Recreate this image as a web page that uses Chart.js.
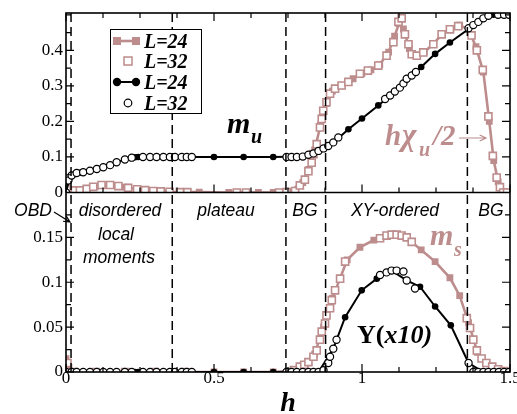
<!DOCTYPE html>
<html>
<head>
<meta charset="utf-8">
<title>m_u and m_s versus h</title>
<script src="https://cdn.jsdelivr.net/npm/chart.js@4.4.1/dist/chart.umd.min.js"></script>
<style>
  html, body { margin: 0; padding: 0; background: #fff; }
  canvas { display: block; }
</style>
</head>
<body>
<canvas id="chart" width="517" height="414"></canvas>
<script>
// upper panel, black: uniform magnetization m_u
const muH24 = [0, 0.01, 0.05, 0.104, 0.149, 0.199, 0.233, 0.244, 0.306, 0.351, 0.408, 0.5, 0.6, 0.7, 0.8, 0.853, 0.903, 0.954, 1.0, 1.055, 1.095, 1.14, 1.2, 1.247, 1.297, 1.41, 1.444, 1.47, 1.5];
const mu24 = [0, 0.034, 0.056, 0.066, 0.077, 0.093, 0.099, 0.1, 0.1, 0.1, 0.1, 0.1, 0.1, 0.1, 0.101, 0.117, 0.14, 0.178, 0.208, 0.245, 0.273, 0.307, 0.353, 0.39, 0.422, 0.49, 0.5, 0.5, 0.5];
const muH32 = [0, 0.008, 0.019, 0.036, 0.058, 0.081, 0.104, 0.126, 0.149, 0.171, 0.199, 0.222,
  0.26, 0.284, 0.306, 0.329, 0.351, 0.368, 0.391, 0.408, 0.425,
  0.745, 0.762, 0.78, 0.8, 0.819, 0.836, 0.853, 0.87, 0.886, 0.903, 0.92,
  1.078, 1.095, 1.111, 1.128, 1.14, 1.151, 1.168, 1.182,
  1.36, 1.376, 1.393, 1.41, 1.427, 1.46, 1.48, 1.497];
const mu32 = [0, 0.034, 0.048, 0.055, 0.057, 0.061, 0.066, 0.071, 0.077, 0.085, 0.093, 0.098,
  0.1, 0.1, 0.1, 0.1, 0.1, 0.1, 0.1, 0.1, 0.1,
  0.1, 0.1, 0.1, 0.101, 0.106, 0.11, 0.117, 0.124, 0.131, 0.141, 0.155,
  0.263, 0.273, 0.284, 0.295, 0.307, 0.32, 0.329, 0.339,
  0.462, 0.471, 0.48, 0.49, 0.497, 0.5, 0.5, 0.5];

// upper panel, pink: h*chi_u/2
const chiH24 = [0, 0.05, 0.1, 0.15, 0.2, 0.25, 0.3, 0.35, 0.45, 0.55, 0.65, 0.7, 0.75,
  0.8, 0.82, 0.84, 0.86, 0.88, 0.9, 0.93, 0.97, 1.0, 1.03, 1.06, 1.09,
  1.11, 1.125, 1.14, 1.16, 1.185, 1.21, 1.24, 1.27, 1.3, 1.33,
  1.36, 1.385, 1.41, 1.43, 1.445, 1.46, 1.48, 1.5];
const chi24 = [0.012, 0.007, 0.017, 0.02, 0.015, 0.008, 0.004, 0.002, 0.001, 0, 0, 0, 0.002,
  0.028, 0.065, 0.12, 0.19, 0.25, 0.285, 0.3, 0.32, 0.335, 0.345, 0.36, 0.395,
  0.44, 0.475, 0.46, 0.405, 0.385, 0.395, 0.417, 0.445, 0.46, 0.471,
  0.458, 0.41, 0.339, 0.2, 0.09, 0.03, 0.002, 0];
const chiH32 = [0.002, 0.03, 0.047, 0.07, 0.092, 0.12, 0.149, 0.177, 0.21, 0.24, 0.267, 0.295, 0.32, 0.35, 0.385, 0.41,
  0.577, 0.608, 0.72, 0.745, 0.774,
  0.79, 0.807, 0.819, 0.83, 0.836, 0.847, 0.858, 0.864, 0.869, 0.88,
  0.892, 0.909, 0.931, 0.954, 0.993, 1.02, 1.055, 1.083, 1.106, 1.123,
  1.134, 1.145, 1.157, 1.168, 1.185, 1.207, 1.241, 1.269, 1.297, 1.325,
  1.37, 1.388, 1.408, 1.427, 1.442, 1.455, 1.466, 1.477, 1.49];
const chi32 = [0.01, 0.006, 0.006, 0.01, 0.016, 0.021, 0.021, 0.018, 0.013, 0.009, 0.0065, 0.004, 0.003, 0.002, 0.001, 0.001,
  0, 0, 0, 0.001, 0.004,
  0.02, 0.036, 0.06, 0.084, 0.108, 0.136, 0.183, 0.207, 0.23, 0.254,
  0.278, 0.292, 0.301, 0.311, 0.334, 0.343, 0.357, 0.385, 0.423, 0.48,
  0.49, 0.445, 0.417, 0.389, 0.385, 0.394, 0.417, 0.445, 0.459, 0.468,
  0.442, 0.40, 0.345, 0.214, 0.103, 0.042, 0.015, 0, 0];

// lower panel, pink: staggered magnetization m_s
const msH24 = [0, 0.01, 0.03, 0.1, 0.2, 0.3, 0.4, 0.5, 0.6, 0.7,
  0.75, 0.8, 0.84, 0.87, 0.9, 0.95, 0.993, 1.04, 1.1, 1.15,
  1.2, 1.247, 1.297, 1.33, 1.36, 1.39, 1.42, 1.46, 1.5];
const ms24 = [0.015, 0.005, 0.001, 0, 0, 0, 0, 0, 0, 0,
  0.001, 0.007, 0.02, 0.05, 0.082, 0.125, 0.139, 0.147, 0.152, 0.15,
  0.136, 0.123, 0.105, 0.085, 0.055, 0.022, 0.01, 0.003, 0];
const msH32 = [0.005, 0.1, 0.2, 0.3, 0.4,
  0.77, 0.79, 0.805, 0.819, 0.836, 0.847, 0.858, 0.864, 0.875, 0.88,
  0.892, 0.898, 0.909, 0.926, 0.943,
  1.061, 1.083, 1.1, 1.117, 1.134, 1.151, 1.168,
  1.354, 1.365, 1.376, 1.388, 1.404, 1.42, 1.44, 1.46, 1.48, 1.497];
const ms32 = [0.01, 0, 0, 0, 0,
  0.002, 0.006, 0.008, 0.011, 0.017, 0.024, 0.036, 0.045, 0.054, 0.063,
  0.071, 0.08, 0.091, 0.104, 0.123,
  0.149, 0.152, 0.153, 0.153, 0.152, 0.15, 0.145,
  0.06, 0.049, 0.036, 0.024, 0.015, 0.01, 0.006, 0.003, 0.001, 0];

// lower panel, black: stiffness Y (x10)
const yH24 = [0, 0.233, 0.244, 0.306, 0.351, 0.408, 0.5, 0.6, 0.7, 0.8,
  0.853, 0.903, 0.943, 0.999, 1.05, 1.1, 1.151, 1.196, 1.247, 1.3,
  1.36, 1.41, 1.46, 1.5];
const y24 = [0, 0, 0, 0, 0, 0, 0, 0, 0, 0,
  0, 0.026, 0.061, 0.091, 0.104, 0.113, 0.102, 0.095, 0.073, 0.052,
  0.01, 0, 0, 0];
const yH32 = [0, 0.019, 0.036, 0.058, 0.081, 0.104, 0.126, 0.149, 0.171, 0.199,
  0.222, 0.26, 0.284, 0.306, 0.329, 0.351, 0.368, 0.391, 0.408, 0.425,
  0.745, 0.762, 0.78, 0.8, 0.819, 0.836, 0.853, 0.87, 0.886, 0.892, 0.903, 0.914,
  1.061, 1.083, 1.1, 1.117, 1.14, 1.151, 1.179,
  1.36, 1.376, 1.393, 1.41, 1.427, 1.445, 1.462, 1.48, 1.497];
const y32 = [0, 0, 0, 0, 0, 0, 0, 0, 0, 0,
  0, 0, 0, 0, 0, 0, 0, 0, 0, 0,
  0, 0, 0, 0, 0, 0, 0, 0.002, 0.01, 0.017, 0.026, 0.036,
  0.108, 0.111, 0.113, 0.113, 0.112, 0.102, 0.093,
  0.01, 0, 0, 0, 0, 0, 0, 0, 0];

// dashed phase boundaries (h values)
const phaseBounds = [0.017, 0.359, 0.743, 0.877, 1.356];

const pink = '#bd8c8c';
const serif = '"Liberation Serif", "Times New Roman", serif';
const sans = '"Liberation Sans", Arial, sans-serif';

function pts(xs, ys) {
  return xs.map((v, i) => ({ x: v, y: ys[i] }));
}

function openCircles(xs, ys, axis) {
  return { data: pts(xs, ys), yAxisID: axis, showLine: false, pointStyle: 'circle',
    pointRadius: 3.6, pointBorderWidth: 1.2, pointBorderColor: '#000', pointBackgroundColor: '#fff' };
}
function filledCircles(xs, ys, axis) {
  return { data: pts(xs, ys), yAxisID: axis, showLine: true, borderColor: '#000', borderWidth: 2,
    pointStyle: 'circle', pointRadius: 3.3, pointBorderWidth: 0, pointBackgroundColor: '#000' };
}
function openSquares(xs, ys, axis) {
  return { data: pts(xs, ys), yAxisID: axis, showLine: false, pointStyle: 'rect',
    pointRadius: 5, pointBorderWidth: 1.6, pointBorderColor: pink, pointBackgroundColor: '#fff' };
}
function filledSquares(xs, ys, axis) {
  return { data: pts(xs, ys), yAxisID: axis, showLine: true, borderColor: pink, borderWidth: 2.6,
    pointStyle: 'rect', pointRadius: 4.8, pointBorderWidth: 0, pointBackgroundColor: pink };
}

function round2(v) { return Math.round(v * 1000) / 1000; }
function isStep(v, step) { return Math.abs(v / step - Math.round(v / step)) < 1e-6; }

function arrow(ctx, x0, y0, x1, y1, color) {
  const a = Math.atan2(y1 - y0, x1 - x0);
  ctx.strokeStyle = color;
  ctx.lineWidth = 1.2;
  ctx.beginPath();
  ctx.moveTo(x0, y0);
  ctx.lineTo(x1, y1);
  ctx.moveTo(x1 - 7 * Math.cos(a - 0.45), y1 - 7 * Math.sin(a - 0.45));
  ctx.lineTo(x1, y1);
  ctx.lineTo(x1 - 7 * Math.cos(a + 0.45), y1 - 7 * Math.sin(a + 0.45));
  ctx.stroke();
}

const decorations = {
  id: 'decorations',
  afterDatasetsDraw(chart) {
    const ctx = chart.ctx;
    const area = chart.chartArea;
    const x = chart.scales.x, yTop = chart.scales.yTop, yBot = chart.scales.yBot;
    const mid = yTop.bottom;
    ctx.save();

    // dashed phase boundaries over both panels
    ctx.strokeStyle = '#000';
    ctx.lineWidth = 1.5;
    ctx.setLineDash([9, 5]);
    phaseBounds.forEach(v => {
      const px = x.getPixelForValue(v);
      ctx.beginPath();
      ctx.moveTo(px, area.top);
      ctx.lineTo(px, area.bottom);
      ctx.stroke();
    });
    ctx.setLineDash([]);

    // frame and panel divider
    ctx.lineWidth = 1.6;
    ctx.strokeRect(area.left, area.top, area.right - area.left, area.bottom - area.top);
    ctx.beginPath();
    ctx.moveTo(area.left, mid);
    ctx.lineTo(area.right, mid);
    ctx.stroke();

    // inward tick marks
    ctx.lineWidth = 1.2;
    ctx.beginPath();
    x.ticks.forEach(t => {
      const px = x.getPixelForValue(t.value);
      const len = t.label !== '' ? 8 : 5;
      ctx.moveTo(px, area.top); ctx.lineTo(px, area.top + len);
      ctx.moveTo(px, mid); ctx.lineTo(px, mid - len);
      ctx.moveTo(px, area.bottom); ctx.lineTo(px, area.bottom - len);
    });
    [yTop, yBot].forEach(s => s.ticks.forEach(t => {
      const py = s.getPixelForValue(t.value);
      const len = t.label !== '' ? 8 : 5;
      ctx.moveTo(area.left, py); ctx.lineTo(area.left + len, py);
      ctx.moveTo(area.right, py); ctx.lineTo(area.right - len, py);
    }));
    ctx.stroke();

    // legend box
    ctx.fillStyle = '#fff';
    ctx.fillRect(110, 29, 91, 84);
    ctx.strokeStyle = '#000';
    ctx.lineWidth = 1;
    ctx.strokeRect(110.5, 29.5, 91, 84);
    const rows = [41, 61, 82, 103];
    ctx.strokeStyle = pink; ctx.lineWidth = 2.6;
    ctx.beginPath(); ctx.moveTo(114, rows[0]); ctx.lineTo(139, rows[0]); ctx.stroke();
    ctx.fillStyle = pink;
    ctx.fillRect(113, rows[0] - 4, 8, 8);
    ctx.fillRect(132, rows[0] - 4, 8, 8);
    ctx.fillStyle = '#fff'; ctx.lineWidth = 1.5;
    ctx.fillRect(124, rows[1] - 4, 8, 8);
    ctx.strokeRect(124, rows[1] - 4, 8, 8);
    ctx.strokeStyle = '#000'; ctx.lineWidth = 2;
    ctx.beginPath(); ctx.moveTo(117, rows[2]); ctx.lineTo(136, rows[2]); ctx.stroke();
    ctx.fillStyle = '#000';
    [117, 136].forEach(cx => { ctx.beginPath(); ctx.arc(cx, rows[2], 4.2, 0, 2 * Math.PI); ctx.fill(); });
    ctx.fillStyle = '#fff'; ctx.lineWidth = 1.2;
    ctx.beginPath(); ctx.arc(128, rows[3], 3.8, 0, 2 * Math.PI); ctx.fill(); ctx.stroke();
    ctx.fillStyle = '#000';
    ctx.font = 'italic bold 20px ' + serif;
    ctx.textAlign = 'left';
    ctx.textBaseline = 'alphabetic';
    ['L=24', 'L=32', 'L=24', 'L=32'].forEach((s, i) => ctx.fillText(s, 144, rows[i] + 7));

    // curve labels
    ctx.font = 'italic bold 30px ' + serif;
    ctx.fillText('m', 227, 133);
    ctx.font = 'italic bold 20px ' + serif;
    ctx.fillText('u', 251, 143);

    ctx.fillStyle = pink;
    ctx.font = 'italic bold 29px ' + serif;
    ctx.fillText('h', 385, 145);
    ctx.font = 'italic bold 31px ' + serif;
    ctx.fillText('\u03c7', 402, 145);
    ctx.font = 'italic bold 29px ' + serif;
    ctx.fillText('/2', 433, 145);
    ctx.font = 'italic bold 20px ' + serif;
    ctx.fillText('u', 419, 156);
    arrow(ctx, 459, 138, 486, 138, pink);

    ctx.fillStyle = pink;
    ctx.font = 'italic bold 30px ' + serif;
    ctx.fillText('m', 430, 245);
    ctx.font = 'italic bold 20px ' + serif;
    ctx.fillText('s', 454, 256);

    ctx.fillStyle = '#000';
    ctx.font = 'bold 26px ' + serif;
    ctx.fillText('Y(', 357, 343);
    const w = ctx.measureText('Y(').width;
    ctx.font = 'italic bold 26px ' + serif;
    ctx.fillText('x10)', 357 + w, 343);

    // phase labels
    ctx.font = 'italic 17.5px ' + sans;
    ctx.textAlign = 'center';
    ctx.fillText('OBD', 33, 216);
    ctx.fillText('disordered', 120, 216);
    ctx.fillText('local', 116, 240);
    ctx.fillText('moments', 119, 263);
    ctx.fillText('plateau', 226, 216);
    ctx.fillText('BG', 305, 216);
    ctx.fillText('XY-ordered', 395, 216);
    ctx.fillText('BG', 491, 216);
    arrow(ctx, 54, 212, 70, 222, '#000');

    ctx.restore();
  }
};

const tickFont = { family: serif, size: 17, lineHeight: 1.2 };

new Chart(document.getElementById('chart'), {
  type: 'scatter',
  data: {
    datasets: [
      openCircles(muH32, mu32, 'yTop'),
      filledCircles(muH24, mu24, 'yTop'),
      openSquares(chiH32, chi32, 'yTop'),
      filledSquares(chiH24, chi24, 'yTop'),
      openCircles(yH32, y32, 'yBot'),
      filledCircles(yH24, y24, 'yBot'),
      openSquares(msH32, ms32, 'yBot'),
      filledSquares(msH24, ms24, 'yBot')
    ]
  },
  options: {
    responsive: false,
    animation: false,
    layout: { padding: { top: 13, right: 7, left: 0, bottom: 0 } },
    plugins: { legend: { display: false }, tooltip: { enabled: false } },
    scales: {
      x: {
        type: 'linear', position: 'bottom', min: 0, max: 1.5,
        grid: { display: false, drawTicks: false }, border: { display: false },
        ticks: {
          stepSize: 0.125, autoSkip: false, maxRotation: 0, padding: -4,
          color: '#000', font: tickFont,
          callback: v => isStep(v, 0.5) ? String(round2(v)) : ''
        },
        title: {
          display: true, text: 'h', color: '#000', padding: 0,
          font: { family: serif, size: 28, style: 'italic', weight: 'bold', lineHeight: 0.75 }
        },
        afterFit: s => { s.height = 42; s.paddingLeft = 0; s.paddingRight = 0; }
      },
      yTop: {
        type: 'linear', position: 'left', stack: 'panels', stackWeight: 1, weight: 1,
        min: 0, max: 0.505,
        grid: { display: false, drawTicks: false }, border: { display: false },
        ticks: {
          stepSize: 0.05, includeBounds: false, autoSkip: false, padding: 3,
          color: '#000', font: tickFont,
          callback: v => (isStep(v, 0.1) && v < 0.45) ? String(round2(v)) : ''
        },
        afterFit: s => { s.width = 66; s.paddingTop = 0; s.paddingBottom = 0; }
      },
      yBot: {
        type: 'linear', position: 'left', stack: 'panels', stackWeight: 1, weight: 0,
        min: 0, max: 0.2,
        grid: { display: false, drawTicks: false }, border: { display: false },
        ticks: {
          stepSize: 0.025, includeBounds: false, autoSkip: false, padding: 3,
          color: '#000', font: tickFont,
          callback: v => (isStep(v, 0.05) && v < 0.19) ? String(round2(v)) : ''
        },
        afterFit: s => { s.width = 66; s.paddingTop = 0; s.paddingBottom = 0; }
      }
    }
  },
  plugins: [decorations]
});
</script>
</body>
</html>
